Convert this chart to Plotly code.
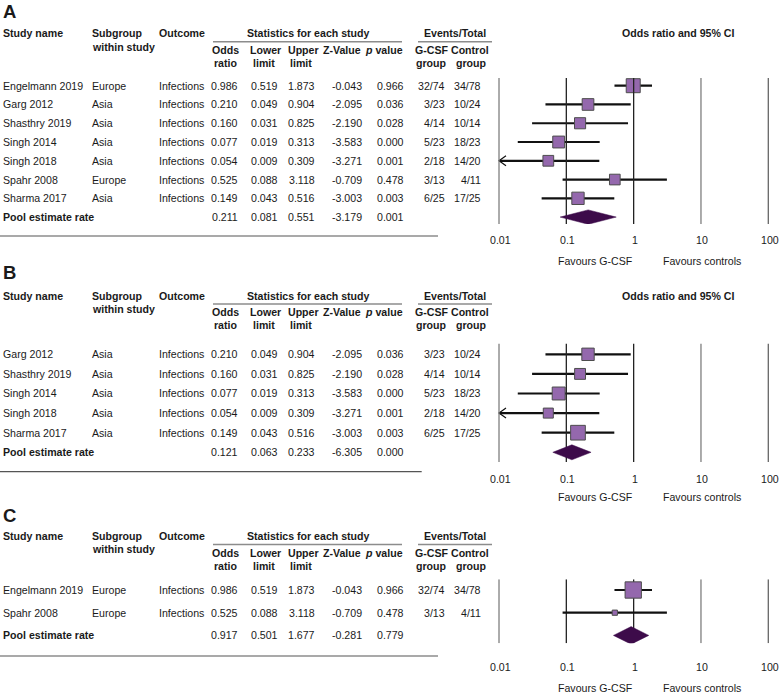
import math
import plotly.graph_objects as go

# ---------------- data ----------------
outcome = "Infections"
tick_values = [0.01, 0.1, 1, 10, 100]
tick_labels = ["0.01", "0.1", "1", "10", "100"]

a_study = ["Engelmann 2019", "Garg 2012", "Shasthry 2019", "Singh 2014", "Singh 2018", "Spahr 2008", "Sharma 2017"]
a_subgroup = ["Europe", "Asia", "Asia", "Asia", "Asia", "Europe", "Asia"]
a_or = [0.986, 0.210, 0.160, 0.077, 0.054, 0.525, 0.149]
a_lower = [0.519, 0.049, 0.031, 0.019, 0.009, 0.088, 0.043]
a_upper = [1.873, 0.904, 0.825, 0.313, 0.309, 3.118, 0.516]
a_z = [-0.043, -2.095, -2.190, -3.583, -3.271, -0.709, -3.003]
a_p = [0.966, 0.036, 0.028, 0.000, 0.001, 0.478, 0.003]
a_gcsf = ["32/74", "3/23", "4/14", "5/23", "2/18", "3/13", "6/25"]
a_control = ["34/78", "10/24", "10/14", "18/23", "14/20", "4/11", "17/25"]
a_weight = [19.6, 14.0, 12.8, 14.4, 12.0, 11.9, 15.5]
a_pool = [0.211, 0.081, 0.551, -3.179, 0.001]

b_study = ["Garg 2012", "Shasthry 2019", "Singh 2014", "Singh 2018", "Sharma 2017"]
b_subgroup = ["Asia", "Asia", "Asia", "Asia", "Asia"]
b_or = [0.210, 0.160, 0.077, 0.054, 0.149]
b_lower = [0.049, 0.031, 0.019, 0.009, 0.043]
b_upper = [0.904, 0.825, 0.313, 0.309, 0.516]
b_z = [-2.095, -2.190, -3.583, -3.271, -3.003]
b_p = [0.036, 0.028, 0.000, 0.001, 0.003]
b_gcsf = ["3/23", "4/14", "5/23", "2/18", "6/25"]
b_control = ["10/24", "10/14", "18/23", "14/20", "17/25"]
b_weight = [20.3, 16.0, 22.0, 13.8, 27.9]
b_pool = [0.121, 0.063, 0.233, -6.305, 0.000]

c_study = ["Engelmann 2019", "Spahr 2008"]
c_subgroup = ["Europe", "Europe"]
c_or = [0.986, 0.525]
c_lower = [0.519, 0.088]
c_upper = [1.873, 3.118]
c_z = [-0.043, -0.709]
c_p = [0.966, 0.478]
c_gcsf = ["32/74", "3/13"]
c_control = ["34/78", "4/11"]
c_weight = [88.5, 11.5]
c_pool = [0.917, 0.501, 1.677, -0.281, 0.779]

# ---------------- layout constants (pixels) ----------------
W, H = 779, 695
FONT = "Liberation Sans, Arial, sans-serif"
FS = 10.6
TXT = "#1a1a1a"
SQ_FILL = "#9468ad"
SQ_LINE = "#4d4d4d"
DIA = "#3d0b4a"
DEC = 67.325          # px per decade on the OR axis
X001 = 499.0          # px position of OR = 0.01
XR = [-2.05, 2.05]
GRID_COL = ["#7f7f7f", "#222222", "#222222", "#7f7f7f", "#666666"]


def px(x):
    return x / W


def py(y):
    return 1 - y / H


panels = [
    dict(label="A", study=a_study, sub=a_subgroup, orr=a_or, lo=a_lower, up=a_upper, z=a_z, p=a_p,
         g=a_gcsf, c=a_control, w=a_weight, pool=a_pool,
         lab_y=11.7, h1=33.3, row0=85.7, step=18.77, vtop=78, vbot=224, tline=236, tx1=438,
         tick_y=240, fav_y=260.5, box=15.0, dia=7.2, grid_above=True, title=True),
    dict(label="B", study=b_study, sub=b_subgroup, orr=b_or, lo=b_lower, up=b_upper, z=b_z, p=b_p,
         g=b_gcsf, c=b_control, w=b_weight, pool=b_pool,
         lab_y=272.5, h1=295.5, row0=354.3, step=19.6, vtop=343.5, vbot=462, tline=471.7, tx1=421.7,
         tick_y=478.5, fav_y=496.5, box=15.7, dia=7.5, grid_above=True, title=True),
    dict(label="C", study=c_study, sub=c_subgroup, orr=c_or, lo=c_lower, up=c_upper, z=c_z, p=c_p,
         g=c_gcsf, c=c_control, w=c_weight, pool=c_pool,
         lab_y=515, h1=536, row0=590, step=22.7, vtop=579.3, vbot=643.3, tline=656, tx1=438,
         tick_y=667, fav_y=688, box=17.3, dia=8.8, grid_above=False, title=False),
]

fig = go.Figure()
annotations = []
shapes = []


def txt(x, y, s, anchor="left", yref="paper", xref="paper", size=FS, xshift=0):
    annotations.append(dict(x=x, y=y, xref=xref, yref=yref, text=s, showarrow=False,
                            xanchor=anchor, yanchor="middle", borderpad=0, xshift=xshift,
                            font=dict(family=FONT, size=size, color=TXT)))


def hline(x0, x1, y, color, width):
    shapes.append(dict(type="line", xref="paper", yref="paper", x0=px(x0), x1=px(x1),
                       y0=py(y), y1=py(y), line=dict(color=color, width=width)))


def lines(x, y, color, width, xa, ya):
    return go.Scatter(x=x, y=y, mode="lines", line=dict(color=color, width=width),
                      xaxis=xa, yaxis=ya, hoverinfo="skip", showlegend=False)


# table column positions (px) and anchors
COLS = dict(name=(2, "left"), sub=(90.7, "left"), out=(158.3, "left"),
            orr=(224.8, "center"), lo=(264.0, "center"), up=(301.8, "center"),
            z=(363.0, "right"), p=(390.3, "center"), g=(446.0, "right"), c=(482.5, "right"))

for k, P in enumerate(panels, start=1):
    sfx = "" if k == 1 else str(k)
    xa, ya = "x" + sfx, "y" + sfx
    row0, step = P["row0"], P["step"]
    ylo = (P["vbot"] - row0) / step
    yhi = (P["vtop"] - row0) / step
    n = len(P["study"])

    fig.update_layout(**{
        "xaxis" + sfx: dict(type="log", range=XR, visible=False, fixedrange=True, anchor=ya,
                            domain=[px(X001 + XR[0] * DEC + 2 * DEC), px(X001 + XR[1] * DEC + 2 * DEC)]),
        "yaxis" + sfx: dict(range=[ylo, yhi], visible=False, fixedrange=True, anchor=xa,
                            domain=[py(P["vbot"]), py(P["vtop"])]),
    })

    # --- forest plot marks ---
    grid = [lines([v, v], [ylo, yhi], GRID_COL[j], 1.3, xa, ya) for j, v in enumerate(tick_values)]
    if not P["grid_above"]:
        for t in grid:
            fig.add_trace(t)

    cx, cy, ax_, ay_ = [], [], [], []
    dx = 10 ** (math.log10(tick_values[0]) + 7 / DEC)
    for i in range(n):
        lo = max(P["lo"][i], tick_values[0])
        cx += [lo, P["up"][i], None]
        cy += [i, i, None]
        if P["lo"][i] < tick_values[0]:
            ax_ += [dx, tick_values[0], dx, None]
            ay_ += [i - 5 / step, i, i + 5 / step, None]
    fig.add_trace(lines(cx, cy, "#111111", 2.2, xa, ya))
    if ax_:
        fig.add_trace(lines(ax_, ay_, "#111111", 1.2, xa, ya))

    wmax = max(P["w"])
    sizes = [P["box"] * math.sqrt(w / wmax) - 1 for w in P["w"]]
    fig.add_trace(go.Scatter(x=P["orr"], y=list(range(n)), mode="markers", xaxis=xa, yaxis=ya,
                             marker=dict(symbol="square", size=sizes, color=SQ_FILL, opacity=1,
                                         line=dict(color=SQ_LINE, width=1)),
                             hoverinfo="skip", showlegend=False))
    if P["grid_above"]:
        for t in grid:
            fig.add_trace(t)

    po, pl, pu = P["pool"][0], P["pool"][1], P["pool"][2]
    hh = P["dia"] / step
    fig.add_trace(go.Scatter(x=[pl, po, pu, po, pl], y=[n, n - hh, n, n + hh, n], mode="lines",
                             fill="toself", fillcolor=DIA, line=dict(color=DIA, width=0.5),
                             xaxis=xa, yaxis=ya, hoverinfo="skip", showlegend=False))

    # tick labels and favours labels
    for v, lab in zip(tick_values, tick_labels):
        txt(math.log10(v), py(P["tick_y"]), lab, anchor="center", xref=xa, xshift=1.5)
    txt(px(595.8), py(P["fav_y"]), "Favours G-CSF", anchor="center")
    txt(px(702.0), py(P["fav_y"]), "Favours controls", anchor="center")

    # --- headers ---
    h1 = P["h1"]
    h2, h3, hw = h1 + 16.7, h1 + 30.0, h1 + 13.3
    txt(px(2), py(P["lab_y"]), "<b>%s</b>" % P["label"], size=18.5)
    txt(px(2), py(h1), "<b>Study name</b>")
    txt(px(90.7), py(h1), "<b>Subgroup</b>")
    txt(px(90.7), py(hw), "<b>within study</b>")
    txt(px(158.3), py(h1), "<b>Outcome</b>")
    txt(px(308.7), py(h1), "<b>Statistics for each study</b>", anchor="center")
    txt(px(225.8), py(h2), "<b>Odds</b>", anchor="center")
    txt(px(225.8), py(h3), "<b>ratio</b>", anchor="center")
    txt(px(265.0), py(h2), "<b>Lower</b>", anchor="center")
    txt(px(264.0), py(h3), "<b>limit</b>", anchor="center")
    txt(px(303.0), py(h2), "<b>Upper</b>", anchor="center")
    txt(px(300.5), py(h3), "<b>limit</b>", anchor="center")
    txt(px(342.2), py(h2), "<b>Z-Value</b>", anchor="center")
    txt(px(384.0), py(h2), "<b><i>p</i> value</b>", anchor="center")
    txt(px(455.0), py(h1), "<b>Events/Total</b>", anchor="center")
    txt(px(431.0), py(h2), "<b>G-CSF</b>", anchor="center")
    txt(px(431.0), py(h3), "<b>group</b>", anchor="center")
    txt(px(470.3), py(h2), "<b>Control</b>", anchor="center")
    txt(px(471.3), py(h3), "<b>group</b>", anchor="center")
    if P["title"]:
        txt(px(677.5), py(h1), "<b>Odds ratio and 95% CI</b>", anchor="center")
    hline(213, 402, h1 + 8.4, "#8c8c8c", 1.5)
    hline(418, 492, h1 + 8.4, "#8c8c8c", 1.5)

    # --- table rows ---
    for i in range(n):
        vals = dict(name=P["study"][i], sub=P["sub"][i], out=outcome,
                    orr="%.3f" % P["orr"][i], lo="%.3f" % P["lo"][i], up="%.3f" % P["up"][i],
                    z="%.3f" % P["z"][i], p="%.3f" % P["p"][i], g=P["g"][i], c=P["c"][i])
        for key, s in vals.items():
            x, anc = COLS[key]
            txt(px(x), i, s, anchor=anc, yref=ya)
    pool_vals = dict(name="<b>Pool estimate rate</b>", orr="%.3f" % po, lo="%.3f" % pl, up="%.3f" % pu,
                     z="%.3f" % P["pool"][3], p="%.3f" % P["pool"][4])
    for key, s in pool_vals.items():
        x, anc = COLS[key]
        txt(px(x), n, s, anchor=anc, yref=ya)
    hline(0, P["tx1"], P["tline"], "#555555", 1.2)

fig.update_layout(width=W, height=H, margin=dict(l=0, r=0, t=0, b=0),
                  paper_bgcolor="white", plot_bgcolor="rgba(0,0,0,0)", showlegend=False,
                  annotations=annotations, shapes=shapes)
fig.write_html("out.html", config={"displayModeBar": False, "staticPlot": True},
               post_script="document.body.style.margin='0';document.body.style.overflow='hidden';")
